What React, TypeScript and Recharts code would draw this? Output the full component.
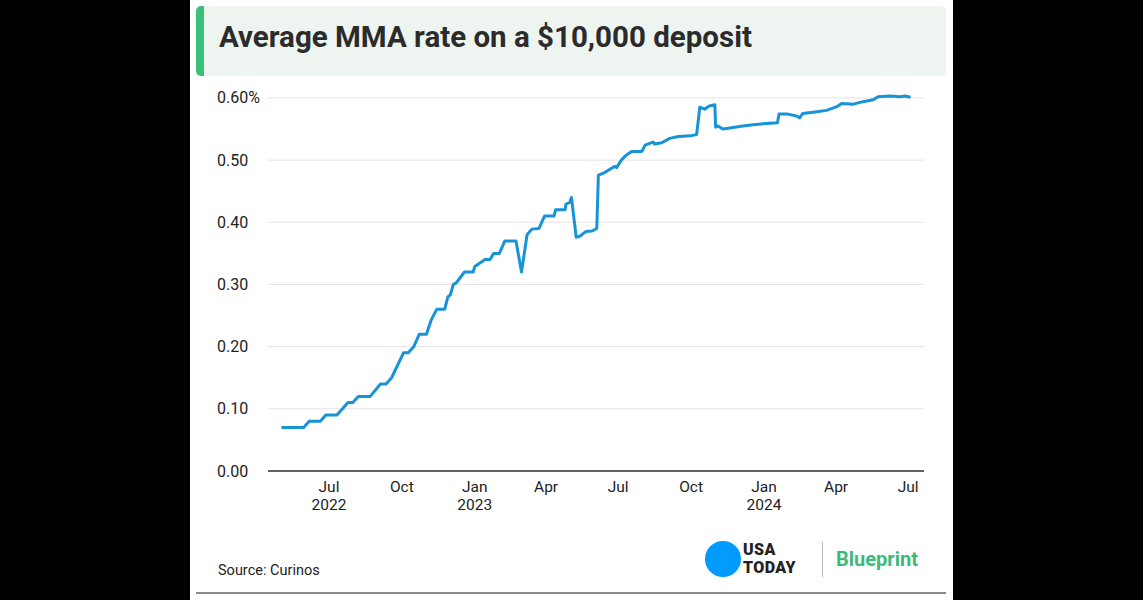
import React from "react";
import { LineChart, Line, XAxis, YAxis, CartesianGrid } from "recharts";

const dates: string[] = [
  "2022-05-02", "2022-05-30", "2022-06-06", "2022-06-20", "2022-06-27", "2022-07-11",
  "2022-07-25", "2022-07-31", "2022-08-07", "2022-08-22", "2022-09-04", "2022-09-11",
  "2022-09-18", "2022-10-03", "2022-10-09", "2022-10-16", "2022-10-23", "2022-11-01",
  "2022-11-07", "2022-11-14", "2022-11-24", "2022-11-28", "2022-12-01", "2022-12-05",
  "2022-12-09", "2022-12-13", "2022-12-19", "2022-12-30", "2023-01-01", "2023-01-07",
  "2023-01-14", "2023-01-20", "2023-01-25", "2023-02-01", "2023-02-08", "2023-02-22",
  "2023-03-01", "2023-03-08", "2023-03-14", "2023-03-23", "2023-03-30", "2023-04-11",
  "2023-04-13", "2023-04-25", "2023-04-26", "2023-05-01", "2023-05-03", "2023-05-09",
  "2023-05-14", "2023-05-21", "2023-05-29", "2023-06-04", "2023-06-06", "2023-06-14",
  "2023-06-20", "2023-06-27", "2023-06-29", "2023-07-05", "2023-07-11", "2023-07-18",
  "2023-07-31", "2023-08-04", "2023-08-14", "2023-08-16", "2023-08-25", "2023-09-04",
  "2023-09-15", "2023-09-30", "2023-10-08", "2023-10-12", "2023-10-18", "2023-10-24",
  "2023-10-31", "2023-11-01", "2023-11-04", "2023-11-10", "2023-11-15", "2023-12-01",
  "2023-12-18", "2024-01-04", "2024-01-18", "2024-01-20", "2024-01-31", "2024-02-11",
  "2024-02-15", "2024-02-19", "2024-03-03", "2024-03-20", "2024-04-02", "2024-04-08",
  "2024-04-23", "2024-05-05", "2024-05-18", "2024-05-24", "2024-06-08", "2024-06-21",
  "2024-06-27", "2024-07-04",
];

const rates: number[] = [
  0.07, 0.07, 0.08, 0.08, 0.09, 0.09,
  0.11, 0.11, 0.12, 0.12, 0.14, 0.14,
  0.15, 0.19, 0.19, 0.2, 0.22, 0.22,
  0.243, 0.26, 0.26, 0.28, 0.283, 0.3,
  0.303, 0.31, 0.32, 0.32, 0.329, 0.334,
  0.34, 0.34, 0.35, 0.35, 0.37, 0.37,
  0.32, 0.38, 0.389, 0.39, 0.41, 0.41,
  0.42, 0.42, 0.429, 0.432, 0.44, 0.376,
  0.378, 0.385, 0.386, 0.39, 0.476, 0.48,
  0.485, 0.49, 0.488, 0.5, 0.508, 0.514,
  0.514, 0.524, 0.529, 0.526, 0.528, 0.535,
  0.538, 0.539, 0.541, 0.585, 0.582, 0.587,
  0.589, 0.553, 0.555, 0.55, 0.551, 0.554,
  0.557, 0.559, 0.56, 0.574, 0.574, 0.571,
  0.568, 0.575, 0.577, 0.58, 0.586, 0.591,
  0.59, 0.594, 0.597, 0.602, 0.603, 0.602,
  0.603, 0.601,
];

const xTickDates: string[] = [
  "2022-07-01", "2022-10-01", "2023-01-01", "2023-04-01", "2023-07-01",
  "2023-10-01", "2024-01-01", "2024-04-01", "2024-07-01",
];
const xTickMonths: string[] = ["Jul", "Oct", "Jan", "Apr", "Jul", "Oct", "Jan", "Apr", "Jul"];
const xTickYears: string[] = ["2022", "", "2023", "", "", "", "2024", "", ""];

const yTicks: number[] = [0, 0.1, 0.2, 0.3, 0.4, 0.5, 0.6];
const yTickLabels: string[] = ["0.00", "0.10", "0.20", "0.30", "0.40", "0.50", "0.60%"];

const DAY = 86400000;
const toTs = (d: string) => Date.parse(d + "T00:00:00Z");
const data = dates.map((d, i) => ({ t: toTs(d), rate: rates[i] }));
const xTicks = xTickDates.map(toTs);
const xDomain = [toTs("2022-07-01") - 77 * DAY, toTs("2022-07-01") + 751 * DAY];

const FONT = "Roboto, 'Noto Sans', sans-serif";

const XTick = (props: any) => {
  const { x, y, payload } = props;
  const idx = xTicks.indexOf(payload.value);
  return (
    <g>
      <text x={x} y={y + 13} textAnchor="middle" fontSize={15.5} fill="#222" fontFamily={FONT}>
        {xTickMonths[idx]}
      </text>
      {xTickYears[idx] ? (
        <text x={x} y={y + 31} textAnchor="middle" fontSize={15.5} fill="#222" fontFamily={FONT}>
          {xTickYears[idx]}
        </text>
      ) : null}
    </g>
  );
};

const YTick = (props: any) => {
  const { y, payload } = props;
  const idx = yTicks.findIndex((v) => Math.abs(v - payload.value) < 1e-9);
  return (
    <text x={27} y={y + 5.5} textAnchor="start" fontSize={16} fill="#222" fontFamily={FONT}>
      {yTickLabels[idx]}
    </text>
  );
};

export default function App() {
  return (
    <div style={{ position: "fixed", inset: 0, background: "#000", fontFamily: FONT }}>
      <div style={{ position: "absolute", left: 190, top: 0, width: 763, height: 600, background: "#fff" }} />
      <div
        style={{
          position: "absolute", left: 196, top: 6, width: 750, height: 70,
          background: "#eef5f0", borderRadius: 5,
        }}
      />
      <div
        style={{
          position: "absolute", left: 196, top: 6, width: 8, height: 70,
          background: "#3cbf7a", borderRadius: "5px 0 0 5px",
        }}
      />
      <div
        style={{
          position: "absolute", left: 219, top: 18, fontSize: 29.5, fontWeight: 700,
          color: "#2b2b2b", whiteSpace: "nowrap", lineHeight: "38px",
        }}
      >
        Average MMA rate on a $10,000 deposit
      </div>

      <div style={{ position: "absolute", left: 190, top: 80 }}>
        <LineChart
          width={763}
          height={445}
          data={data}
          margin={{ top: 5.5, right: 29, bottom: 4, left: 0 }}
        >
          <CartesianGrid
            horizontal={true}
            vertical={false}
            stroke="#e4e4e4"
            strokeWidth={1}
            horizontalValues={yTicks}
          />
          <XAxis
            type="number"
            dataKey="t"
            domain={xDomain}
            ticks={xTicks}
            interval={0}
            tick={<XTick />}
            tickLine={false}
            axisLine={{ stroke: "#333", strokeWidth: 1.5 }}
            height={50}
            allowDataOverflow
          />
          <YAxis
            type="number"
            domain={[0, 0.62]}
            ticks={yTicks}
            tick={<YTick />}
            tickLine={false}
            axisLine={false}
            width={78}
            allowDataOverflow
            interval={0}
          />
          <Line
            type="linear"
            dataKey="rate"
            stroke="#1893d8"
            strokeWidth={3}
            dot={false}
            isAnimationActive={false}
            strokeLinejoin="round"
          />
        </LineChart>
      </div>

      <div style={{ position: "absolute", left: 218, top: 562, fontSize: 14.5, color: "#222", whiteSpace: "nowrap" }}>
        Source: Curinos
      </div>
      <div
        style={{
          position: "absolute", left: 705, top: 541, width: 36, height: 36,
          borderRadius: "50%", background: "#009bff",
        }}
      />
      <div
        style={{
          position: "absolute", left: 743, top: 542, fontSize: 16, fontWeight: 900,
          lineHeight: "16px", height: 16, color: "#222", letterSpacing: 0.4,
        }}
      >
        USA
      </div>
      <div
        style={{
          position: "absolute", left: 743, top: 560, fontSize: 16, fontWeight: 900,
          lineHeight: "16px", height: 16, color: "#222", letterSpacing: 0.4,
        }}
      >
        TODAY
      </div>
      <div style={{ position: "absolute", left: 822, top: 542, width: 1, height: 35, background: "#bbb" }} />
      <div
        style={{
          position: "absolute", left: 836, top: 547, fontSize: 20, fontWeight: 700,
          color: "#3dba78", lineHeight: "24px",
        }}
      >
        Blueprint
      </div>
      <div style={{ position: "absolute", left: 196, top: 592, width: 750, height: 2, background: "#8a8a8a" }} />
    </div>
  );
}
